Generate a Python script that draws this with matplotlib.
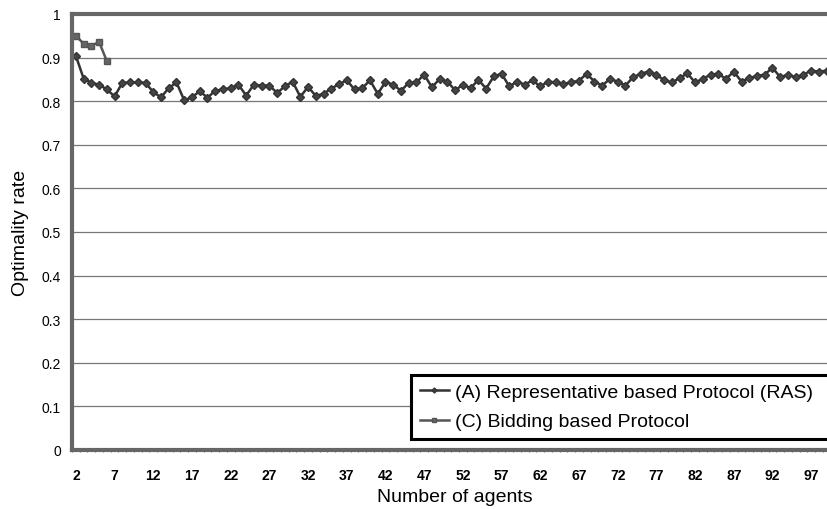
import numpy as np
import matplotlib
matplotlib.use("Agg")
import matplotlib.pyplot as plt

plt.rcParams["font.family"] = ["Liberation Sans", "DejaVu Sans"]

# number of agents 2..100
agents = list(range(2, 101))

# (A) Representative based Protocol (RAS)
ras = [0.904, 0.852, 0.842, 0.838, 0.827, 0.811, 0.842, 0.843, 0.843, 0.842,
       0.821, 0.809, 0.830, 0.843, 0.802, 0.809, 0.823, 0.808, 0.824, 0.827,
       0.830, 0.838, 0.813, 0.838, 0.836, 0.836, 0.819, 0.834, 0.845, 0.810,
       0.833, 0.812, 0.817, 0.829, 0.839, 0.848, 0.827, 0.830, 0.848, 0.817,
       0.844, 0.838, 0.824, 0.842, 0.843, 0.861, 0.832, 0.851, 0.845, 0.825,
       0.838, 0.830, 0.849, 0.829, 0.857, 0.863, 0.834, 0.845, 0.838, 0.848,
       0.834, 0.845, 0.843, 0.840, 0.843, 0.847, 0.863, 0.845, 0.836, 0.851,
       0.845, 0.836, 0.855, 0.863, 0.868, 0.861, 0.848, 0.843, 0.853, 0.864,
       0.843, 0.851, 0.861, 0.863, 0.851, 0.868, 0.845, 0.853, 0.858, 0.861,
       0.877, 0.855, 0.861, 0.855, 0.861, 0.870, 0.868, 0.870, 0.870]

# (C) Bidding based Protocol, only small agent counts
bid_agents = [2, 3, 4, 5, 6]
bid = [0.950, 0.932, 0.927, 0.936, 0.892]

xticks = list(range(2, 101, 5))

fig = plt.figure(figsize=(8.28, 5.10), dpi=100)
ncat = len(agents)
ax = fig.add_axes([72 / 828, 59 / 510, ncat * 7.74 / 828, 436 / 510])

pos = {a: i for i, a in enumerate(agents)}
xa = [pos[a] for a in agents]
xc = [pos[a] for a in bid_agents]

ax.plot(xa, ras, color="#333333", lw=1.8, marker="D", ms=4.2,
        mfc="#444444", mec="#333333", label="(A) Representative based Protocol (RAS)")
ax.plot(xc, bid, color="#555555", lw=1.8, marker="s", ms=5,
        mfc="#666666", mec="#555555", label="(C) Bidding based Protocol")

ax.set_xlim(-0.5, ncat - 0.5)
ax.set_ylim(0, 1)
ax.set_yticks(np.arange(0, 1.01, 0.1))
ax.set_yticklabels(["0"] + ["%.1f" % v for v in np.arange(0.1, 0.95, 0.1)] + ["1"])
ax.set_xticks([pos[t] for t in xticks])
ax.set_xticklabels([str(t) for t in xticks], fontweight="bold", fontsize=10)
ax.set_xticks(np.arange(-0.5, ncat, 1), minor=True)
ax.tick_params(axis="x", which="minor", length=3, width=0.6, direction="inout", colors="#555555")
ax.tick_params(axis="x", which="major", length=0, pad=13)
ax.tick_params(axis="y", labelsize=10, length=0, pad=8)

ax.yaxis.grid(True, color="#777777", lw=0.9)
ax.set_axisbelow(True)
for s in ["left", "bottom", "top", "right"]:
    ax.spines[s].set_linewidth(3)
    ax.spines[s].set_color("#666666")

ax.set_xlabel("Number of agents", fontsize=14, labelpad=4)
ax.set_ylabel("Optimality rate", fontsize=14, labelpad=9)

leg = ax.legend(loc="lower left", bbox_to_anchor=(0.4426, 0.025, 0.555, 0.2),
                mode="expand", fontsize=14,
                handlelength=1.5, handletextpad=0.3, borderpad=0.45,
                labelspacing=0.6, borderaxespad=0.0,
                fancybox=False, framealpha=1, edgecolor="black", markerscale=0.6)
leg.get_frame().set_linewidth(2.2)

fig.savefig("out.png", dpi=100)
